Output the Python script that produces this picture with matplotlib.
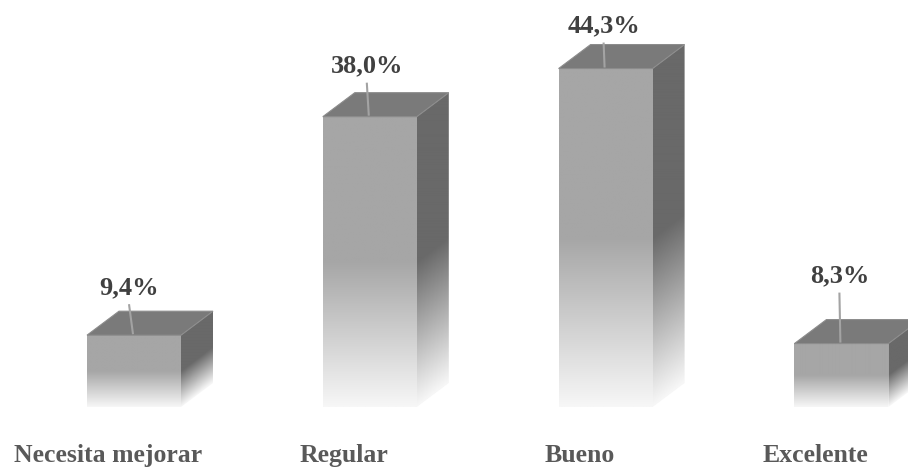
import numpy as np
import matplotlib.pyplot as plt
from matplotlib.colors import LinearSegmentedColormap, to_rgb
from matplotlib.patches import Polygon

categories = ["Necesita mejorar", "Regular", "Bueno", "Excelente"]
values = [9.4, 38.0, 44.3, 8.3]
labels = ["9,4%", "38,0%", "44,3%", "8,3%"]

# label placement in pixels relative to the front-top centre of each bar
label_dx = [-5, -3, -2, -2]
label_dy = [41, 44, 36, 61]

W, H = 908, 470
fig = plt.figure(figsize=(W / 100, H / 100), dpi=100)
ax = fig.add_axes([0, 0, 1, 1])

px_x = 235.8          # pixels per category step
px_y = 7.64           # pixels per percent
x0_px, y0_px = 134, 63
ax.set_xlim(-x0_px / px_x, (W - x0_px) / px_x)
ax.set_ylim(-y0_px / px_y, (H - y0_px) / px_y)
ax.axis("off")

bw = 94 / px_x
dx = 32 / px_x
dy = 24 / px_y


def fade_cmap(name, top):
    # lower half of the bar fades out to near white
    top = np.array(to_rgb(top))
    low = np.array(to_rgb("#f7f7f7"))
    f = np.linspace(0, 1, 256)
    t = np.clip(f / 0.5, 0, 1)
    cols = low[None, :] * (1 - t[:, None]) + top[None, :] * t[:, None]
    return LinearSegmentedColormap.from_list(name, cols)


front_cmap = fade_cmap("front", "#a6a6a6")
side_cmap = fade_cmap("side", "#696969")
grad = np.linspace(0, 1, 256).reshape(-1, 1)

for i, (v, lab) in enumerate(zip(values, labels)):
    xl, xr = i - bw / 2, i + bw / 2

    # front face
    ax.imshow(grad, cmap=front_cmap, origin="lower", aspect="auto",
              extent=[xl, xr, 0, v], zorder=2, interpolation="bilinear",
              vmin=0, vmax=1)

    # side face: the fade follows the slanted bottom edge
    side = Polygon([(xr, 0), (xr + dx, dy), (xr + dx, v + dy), (xr, v)],
                   closed=True, facecolor="none", edgecolor="none")
    ax.add_patch(side)
    sx = np.linspace(0, dx, 64)
    sy = np.linspace(0, v + dy, 256)
    SX, SY = np.meshgrid(sx, sy)
    g2 = np.clip((SY - SX * dy / dx) / v, 0, 1)
    im = ax.imshow(g2, cmap=side_cmap, origin="lower", aspect="auto",
                   extent=[xr, xr + dx, 0, v + dy], zorder=2,
                   interpolation="bilinear", vmin=0, vmax=1)
    im.set_clip_path(side)

    # top face
    ax.add_patch(Polygon([(xl, v), (xl + dx, v + dy), (xr + dx, v + dy), (xr, v)],
                         closed=True, facecolor="#7a7a7a", edgecolor="#8c8c8c",
                         lw=0.8, zorder=3))

    # value label with leader line
    lx = i + label_dx[i] / px_x
    ly = v + label_dy[i] / px_y
    ax.text(lx, ly, lab, ha="center", va="baseline", fontsize=19,
            fontweight="bold", family="Liberation Serif", color="#404040", zorder=5)
    ax.plot([lx, i - 1 / px_x], [ly - 10 / px_y, v + 1 / px_y],
            color="#a3a3a3", lw=1.5, zorder=4, solid_capstyle="butt")

    # category label
    ax.text(i - 26 / px_x, -55 / px_y, categories[i], ha="center", va="baseline",
            fontsize=18.5, fontweight="bold", family="Liberation Serif",
            color="#595959")

fig.savefig("out.png", dpi=100)
